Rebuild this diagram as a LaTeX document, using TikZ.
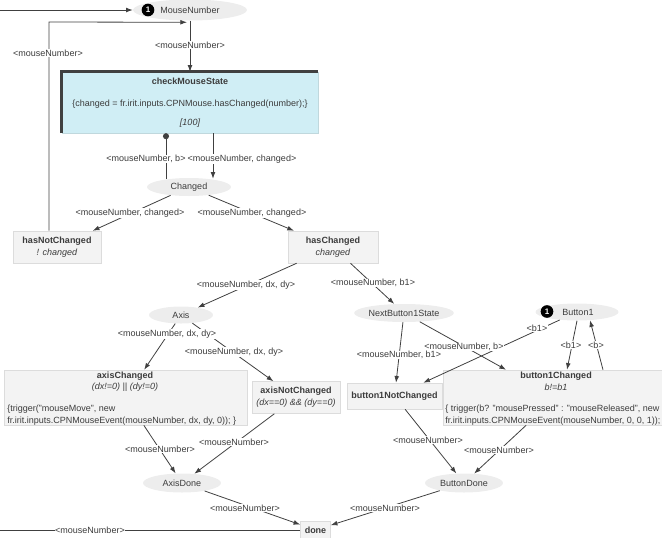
\documentclass[tikz,border=0pt]{standalone}
\usepackage{fontspec}
\setmainfont{Liberation Sans}
\usetikzlibrary{shapes.geometric,arrows.meta,calc}
\definecolor{txt}{HTML}{3C3C3C}
\definecolor{ln}{HTML}{404040}
\definecolor{plc}{HTML}{EDEDED}
\definecolor{trf}{HTML}{F3F3F3}
\definecolor{trb}{HTML}{DCDCDC}
\definecolor{cyanf}{HTML}{D0EEF5}
\def\pxu{*0.75pt}
\begin{document}
\begin{tikzpicture}[x=0.75pt,y=-0.75pt,
  font=\fontsize{6.75}{9}\selectfont, text=txt,
  place/.style={ellipse, fill=plc, inner sep=0pt},
  trans/.style={rectangle, fill=trf, draw=trb, line width=0.4pt, inner sep=0pt, align=center},
  arc/.style={draw=ln, line width=0.6pt},
  arr/.style={arc, -{Latex[length=5pt,width=3.6pt]}},
  lbl/.style={fill=white, inner sep=0.3pt},
  tok/.style={circle, fill=black, text=white, inner sep=0pt, minimum size=9.5pt, font=\fontsize{6}{7}\selectfont\bfseries},
  ttl/.style={font=\fontsize{6.75}{9}\selectfont\bfseries},
  grd/.style={font=\fontsize{6.75}{9}\selectfont\itshape}]
\useasboundingbox (0,0) rectangle (662,537);
\clip (0,0) rectangle (662,537);

% places
\node[place, minimum width=114\pxu, minimum height=21\pxu] (MN) at (190,10) {MouseNumber};
\node[place, minimum width=84\pxu, minimum height=18\pxu] (Changed) at (189,187) {Changed};
\node[place, minimum width=64\pxu, minimum height=17\pxu] (Axis) at (181,315) {Axis};
\node[place, minimum width=91\pxu, minimum height=18\pxu] (NBS) at (404,313) {NextButton1State};
\node[place, minimum width=83\pxu, minimum height=17\pxu] (Button1) at (577,312) {\hspace{1.5pt}Button1};
\node[place, minimum width=78\pxu, minimum height=19\pxu] (AxisDone) at (182,483) {AxisDone};
\node[place, minimum width=78\pxu, minimum height=19\pxu] (ButtonDone) at (464,483) {ButtonDone};

% transitions
\node[rectangle, fill=cyanf, draw=cyanf!80!gray, line width=0.3pt, minimum width=256\pxu, minimum height=61\pxu, inner sep=0pt] (CMS) at (190,102.5) {};
\draw[draw=ln, line width=2pt] (CMS.south west) -- (CMS.north west) -- (CMS.north east);
\node[ttl] (CMSt) at (190,81) {checkMouseState};
\node (CMSc) at (190,104) {\{changed = fr.irit.inputs.CPNMouse.hasChanged(number);\}};
\node[grd] (CMSg) at (190,123) {[100]};

\node[trans, minimum width=88\pxu, minimum height=32\pxu] (hNC) at (57,247) {\textbf{hasNotChanged}\\\textit{! changed}};
\node[trans, minimum width=90\pxu, minimum height=32\pxu] (hC) at (333,247) {\textbf{hasChanged}\\\textit{changed}};

\node[trans, minimum width=243\pxu, minimum height=55\pxu] (aC) at (125.5,397.5) {};
\node[ttl] (aCt) at (125,376) {axisChanged};
\node[grd] (aCg) at (125,387) {(dx!=0) || (dy!=0)};
\node[anchor=west, inner sep=0pt] (aCc1) at (7,409) {\{trigger("mouseMove", new};
\node[anchor=west, inner sep=0pt] (aCc2) at (7,421) {fr.irit.inputs.CPNMouseEvent(mouseNumber, dx, dy, 0)); \}};

\node[trans, minimum width=88\pxu, minimum height=32\pxu] (aNC) at (296,397.5) {\textbf{axisNotChanged}\\\textit{(dx==0) \&\& (dy==0)}};
\node[trans, minimum width=95\pxu, minimum height=26\pxu] (b1NC) at (394.5,396) {\textbf{button1NotChanged}};

\node[trans, minimum width=226\pxu, minimum height=55\pxu] (b1C) at (556,397.5) {};
\node[ttl] (b1Ct) at (556,376) {button1Changed};
\node[grd] (b1Cg) at (556,387) {b!=b1};
\node[anchor=west, inner sep=0pt] (b1Cc1) at (445,409) {\{ trigger(b? "mousePressed" : "mouseReleased", new};
\node[anchor=west, inner sep=0pt] (b1Cc2) at (445,421) {fr.irit.inputs.CPNMouseEvent(mouseNumber, 0, 0, 1));};

\node[trans, minimum width=30\pxu, minimum height=17\pxu] (done) at (315.5,530) {\textbf{done}};

% arcs
\coordinate (inL) at (0,10);
\coordinate (outL) at (0,530);
\coordinate (lp) at (49,22);
\coordinate (xa) at (166,0);
\coordinate (xb) at (213,0);

\draw[arr] (inL) -- (MN);
\draw[arr] (hNC.north -| lp) -- (lp) -- ($(MN.south)+(-3,1.5)$);
\draw[arr] (MN) -- (CMS);
\draw[arc, {Circle[length=4.5pt]}-] (CMS.south -| xa) -- ($(Changed.north -| xa)+(0,1.5)$);
\draw[arr] (CMS.south -| xb) -- ($(Changed.north -| xb)+(0,1)$);
\draw[arr] (Changed) -- (hNC);
\draw[arr] (Changed) -- (hC);
\draw[arr] (hC) -- (Axis);
\draw[arr] (hC) -- (NBS);
\draw[arr] (Axis) -- (aC);
\draw[arr] (Axis) -- (aNC);
\draw[arr] (NBS) -- (b1NC);
\draw[arr] (NBS) -- (b1C);
\draw[arr] (Button1) -- (b1NC);
\draw[arr] (Button1.south) -- ($(b1C.north)+(11,0)$);
\draw[arr] ($(b1C.north)+(47,0)$) -- ($(Button1.south)+(13,-0.5)$);
\draw[arr] (aC) -- (AxisDone);
\draw[arr] (aNC) -- (AxisDone);
\draw[arr] (b1NC) -- (ButtonDone);
\draw[arr] (b1C) -- (ButtonDone);
\draw[arr] (AxisDone) -- (done);
\draw[arr] (ButtonDone) -- (done);
\draw[arc] (done) -- (outL);

% tokens
\node[tok] (MNt) at (148,10) {1};
\node[tok] (B1t) at (547,311.5) {1};

% arc labels
\node[lbl] (l1) at (48,53) {<mouseNumber>};
\node[lbl] (l2) at (190,45) {<mouseNumber>};
\node[lbl] (l3) at (146,159) {<mouseNumber, b>};
\node[lbl] (l4) at (242,159) {<mouseNumber, changed>};
\node[lbl] (l5) at (130,213) {<mouseNumber, changed>};
\node[lbl] (l6) at (252,213) {<mouseNumber, changed>};
\node[lbl] (l7) at (246,285) {<mouseNumber, dx, dy>};
\node[lbl] (l8) at (373,283) {<mouseNumber, b1>};
\node[lbl] (l9) at (167,334) {<mouseNumber, dx, dy>};
\node[lbl] (l10) at (234,352) {<mouseNumber, dx, dy>};
\node[lbl] (l12) at (464,347) {<mouseNumber, b>};
\node[lbl] (l11) at (399,355) {<mouseNumber, b1>};
\node[lbl] (l13) at (537,328) {<b1>};
\node[lbl] (l14) at (571,345) {<b1>};
\node[lbl] (l15) at (596,345) {<b>};
\node[lbl] (l16) at (160,449) {<mouseNumber>};
\node[lbl] (l17) at (234,442) {<mouseNumber>};
\node[lbl] (l18) at (428,440) {<mouseNumber>};
\node[lbl] (l19) at (499,450) {<mouseNumber>};
\node[lbl] (l20) at (245,508) {<mouseNumber>};
\node[lbl] (l21) at (385,508) {<mouseNumber>};
\node[lbl] (l22) at (90,530) {<mouseNumber>};
\end{tikzpicture}
\end{document}
